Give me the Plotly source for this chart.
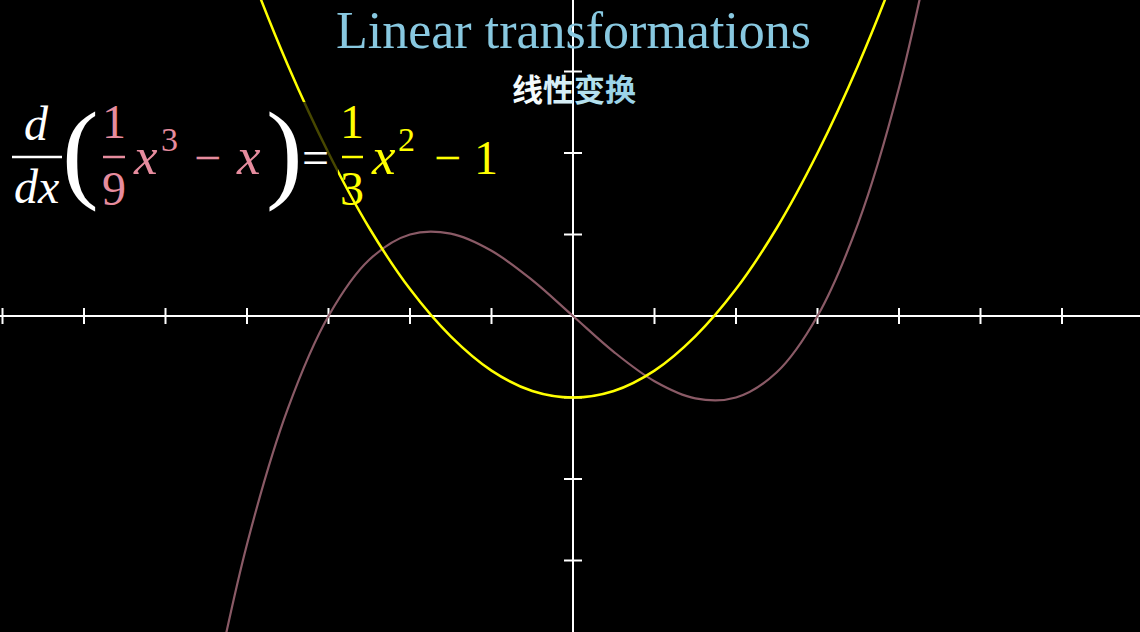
import plotly.graph_objects as go

# ---------------- data ----------------
x_samples = [-4.5, -4.0, -3.5, -3.0, -2.5, -2.0, -1.5, -1.0, -0.5, 0.0,
             0.5, 1.0, 1.5, 2.0, 2.5, 3.0, 3.5, 4.0, 4.5]
cubic_vals = [-5.06, -2.80, -1.14, 0.0, 0.69, 1.00, 1.01, 0.80, 0.44, 0.0,
              -0.44, -0.80, -1.01, -1.00, -0.69, 0.0, 1.14, 2.80, 5.06]
parab_vals = [5.75, 4.33, 3.08, 2.00, 1.08, 0.33, -0.25, -0.67, -0.92, -1.00,
              -0.92, -0.67, -0.25, 0.33, 1.08, 2.00, 3.08, 4.33, 5.75]
x_ticks = [-7, -6, -5, -4, -3, -2, -1, 1, 2, 3, 4, 5, 6]
y_ticks = [-3, -2, -1, 1, 2, 3]
title_text = "Linear transformations"
subtitle_chars = ["线", "性", "变", "换"]

# ---------------- layout constants ----------------
W, H = 1140, 632
UNIT = 81.5
OX, OY = 573, 316
xr = [-OX / UNIT, (W - OX) / UNIT]
yr = [-(H - OY) / UNIT, OY / UNIT]

def px(x):
    return x / W

def py(y):
    return 1 - y / H

fig = go.Figure()

# axes
fig.add_trace(go.Scatter(x=[xr[0] - 1, xr[1] + 1], y=[0, 0], mode="lines",
                         line=dict(color="white", width=2), hoverinfo="skip"))
fig.add_trace(go.Scatter(x=[0, 0], y=[yr[0] - 1, yr[1] + 1], mode="lines",
                         line=dict(color="white", width=2), hoverinfo="skip"))
tx, ty = [], []
th = 8 / UNIT
for t in x_ticks:
    tx += [t, t, None]
    ty += [-th, th, None]
fig.add_trace(go.Scatter(x=tx, y=ty, mode="lines",
                         line=dict(color="white", width=2), hoverinfo="skip"))
tx, ty = [], []
tw = 9 / UNIT
for t in y_ticks:
    tx += [-tw, tw, None]
    ty += [t, t, None]
fig.add_trace(go.Scatter(x=tx, y=ty, mode="lines",
                         line=dict(color="white", width=2), hoverinfo="skip"))

# curves
fig.add_trace(go.Scatter(x=x_samples, y=cubic_vals, mode="lines",
                         line=dict(color="#8A5A66", width=2.2, shape="spline", smoothing=1.0),
                         hoverinfo="skip"))
fig.add_trace(go.Scatter(x=x_samples, y=parab_vals, mode="lines",
                         line=dict(color="#FFFF00", width=2.5, shape="spline", smoothing=1.0),
                         hoverinfo="skip"))

# dimming backdrop behind the formula
fig.add_shape(type="rect", xref="paper", yref="paper",
              x0=px(0), x1=px(338), y0=py(205), y1=py(102),
              fillcolor="rgba(0,0,0,0.72)", line=dict(width=0), layer="above")

PINK = "#E68C9E"
YEL = "#FFFF00"
WHITE = "#FFFFFF"
SERIF = "Liberation Serif"
FS = 48
FX = 53
FSUP = 34

annots = []

def txt(s, x, y, size, color, family=SERIF):
    annots.append(dict(text=s, x=px(x), y=py(y), xref="paper", yref="paper",
                       xanchor="center", yanchor="middle", showarrow=False,
                       font=dict(family=family, size=size, color=color)))

def bar(x0, x1, y, color):
    fig.add_shape(type="line", xref="paper", yref="paper",
                  x0=px(x0), x1=px(x1), y0=py(y), y1=py(y),
                  line=dict(color=color, width=2.5), layer="above")

# title and subtitle
txt(title_text, 573, 30, 52, "#88C8E0")
colors = ["#F4FAFC", "#D6EEF6", "#B4E0EE", "#9CD4E8"]
sub = "".join('<span style="color:%s">%s</span>' % (c, ch) for c, ch in zip(colors, subtitle_chars))
annots.append(dict(text="<b>" + sub + "</b>", x=px(574), y=py(88), xref="paper", yref="paper",
                   xanchor="center", yanchor="middle", showarrow=False,
                   font=dict(family="Noto Sans CJK SC", size=31, color="#DDF2F8")))

# formula: d/dx
txt("<i>d</i>", 37, 124, FS, WHITE)
bar(12, 62, 157, WHITE)
txt("<i>dx</i>", 37, 186, FS, WHITE)
txt("(", 80, 151, 110, WHITE)
# 1/9 x^3 - x
txt("1", 114, 121, FS, PINK)
bar(103, 125, 157, PINK)
txt("9", 114, 188, FS, PINK)
txt("<i>x</i>", 145, 156, FX, PINK)
txt("3", 169, 139, FSUP, PINK)
txt("−", 207, 157, FS, PINK)
txt("<i>x</i>", 248, 156, FX, PINK)
txt(")", 284, 151, 110, WHITE)
txt("=", 316, 157, FS, WHITE)
# 1/3 x^2 - 1
txt("1", 352, 121, FS, YEL)
bar(342, 363, 157, YEL)
txt("3", 352, 188, FS, YEL)
txt("<i>x</i>", 383, 156, FX, YEL)
txt("2", 406, 139, FSUP, YEL)
txt("−", 447, 157, FS, YEL)
txt("1", 486, 157, FS, YEL)

fig.update_layout(
    width=W, height=H,
    margin=dict(l=0, r=0, t=0, b=0),
    paper_bgcolor="black", plot_bgcolor="black",
    showlegend=False,
    xaxis=dict(range=xr, visible=False, fixedrange=True),
    yaxis=dict(range=yr, visible=False, fixedrange=True),
    annotations=annots,
)

fig.write_html("out.html", config={"displayModeBar": False},
               post_script="document.body.style.margin='0';document.body.style.background='black';")
